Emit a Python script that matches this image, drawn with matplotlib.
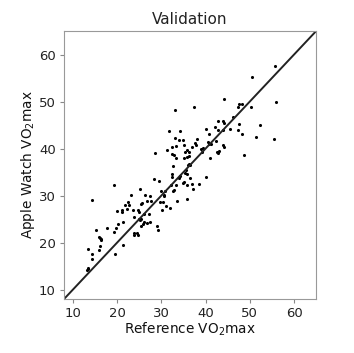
import matplotlib
matplotlib.use('Agg')
import matplotlib.pyplot as plt

# Reference VO2max vs Apple Watch VO2max
reference = [
    55.6, 50.4, 55.9, 44.2, 37.4, 33.0, 47.6, 48.3, 47.4, 50.2,
    46.2, 42.7, 43.9, 44.2, 47.6, 52.3, 40.0, 42.05, 42.7, 43.9,
    45.5, 47.4, 48.2, 31.7, 34.2, 40.7, 51.5, 55.5, 33.0, 33.9,
    35.0, 38.0, 37.7, 40.5, 40.8, 41.3, 42.4, 32.4, 33.2, 35.1,
    35.8, 36.9, 37.8, 44.0, 44.2, 31.3, 32.3, 32.8, 33.4, 35.3,
    36.2, 36.3, 35.2, 35.9, 28.6, 39.5, 38.9, 39.2, 42.5, 42.7,
    43.1, 40.9, 48.7, 36.2, 36.1, 36.4, 32.6, 35.5, 35.4, 35.7,
    32.4, 32.4, 34.2, 33.9, 35.2, 36.4, 40.2, 28.3, 29.5, 32.1,
    33.3, 34.9, 35.9, 37.0, 38.5, 37.2, 19.2, 30.0, 30.9, 30.7,
    30.5, 32.6, 32.9, 23.1, 25.1, 26.4, 27.5, 35.9, 33.6, 14.4,
    22.4, 25.6, 25.3, 26.75, 27.7, 29.6, 30.4, 21.8, 22.7, 19.9,
    21.1, 21.1, 22.2, 23.6, 31.1, 32.05, 30.2, 24.7, 24.85, 26.0,
    27.2, 23.9, 25.0, 25.2, 25.5, 26.1, 25.9, 26.7, 27.5, 21.4,
    20.2, 17.7, 19.8, 19.2, 15.2, 25.4, 29.1, 29.2, 23.9, 24.6,
    23.8, 24.7, 15.8, 16.1, 16.4, 16.4, 16.1, 16.0, 21.3, 13.3,
    14.4, 19.6, 14.4, 13.3, 13.1, 13.5,
]
apple_watch = [
    57.5, 55.2, 49.9, 50.5, 48.8, 48.3, 49.4, 49.4, 48.8, 48.9,
    46.7, 45.9, 45.9, 45.4, 45.2, 45.0, 44.2, 44.6, 43.9, 43.9,
    44.1, 43.9, 43.0, 43.7, 43.7, 43.0, 42.4, 42.1, 42.3, 41.9,
    41.9, 42.0, 41.1, 41.3, 41.0, 40.9, 41.6, 40.4, 40.6, 40.7,
    39.7, 40.4, 40.7, 40.7, 40.4, 39.8, 38.8, 38.7, 38.0, 39.2,
    39.2, 38.5, 38.0, 38.2, 39.0, 40.2, 39.9, 39.3, 39.3, 39.1,
    39.5, 38.0, 38.6, 36.8, 36.5, 36.6, 36.2, 35.4, 34.9, 34.6,
    34.6, 34.0, 34.2, 33.7, 32.9, 33.8, 34.0, 33.6, 33.1, 32.2,
    32.3, 32.7, 32.2, 32.4, 32.5, 31.5, 32.2, 30.9, 30.97, 30.1,
    30.0, 30.9, 31.2, 30.2, 31.3, 30.05, 30.0, 29.2, 28.85, 29.1,
    28.6, 28.5, 28.3, 28.85, 28.8, 28.6, 28.6, 27.9, 27.9, 26.7,
    26.9, 26.6, 27.2, 27.0, 27.8, 27.3, 27.0, 27.0, 26.6, 26.1,
    26.0, 25.5, 25.1, 24.8, 25.1, 24.3, 24.0, 24.1, 24.4, 24.3,
    23.9, 23.1, 23.0, 22.3, 22.6, 23.6, 23.5, 22.7, 22.1, 22.1,
    21.65, 21.7, 21.15, 21.0, 20.5, 20.8, 19.3, 18.5, 19.4, 18.6,
    17.6, 17.5, 16.5, 14.5, 14.2, 14.4,
]
lims = [8, 65]
ticks = [10, 20, 30, 40, 50, 60]

fig = plt.figure(figsize=(3.54, 3.53), dpi=100)
ax = fig.add_axes([0.181, 0.153, 0.712, 0.759])

ax.scatter(reference, apple_watch, s=5, c='black', marker='o', linewidths=0)
ax.plot(lims, lims, color='#222222', linewidth=1.4)

ax.set_xlim(lims)
ax.set_ylim(lims)
ax.set_xticks(ticks)
ax.set_yticks(ticks)
ax.tick_params(labelsize=9.5, color='#888888', labelcolor='#222222', length=3, pad=3)
for s in ax.spines.values():
    s.set_color('#999999')

ax.set_title('Validation', fontsize=11, color='#222222', pad=5)
ax.set_xlabel(r'Reference VO$_2$max', fontsize=9.8, color='#111111', labelpad=0)
ax.set_ylabel(r'Apple Watch VO$_2$max', fontsize=9.8, color='#111111', labelpad=1)

plt.savefig('out.png', dpi=100)
plt.close()
